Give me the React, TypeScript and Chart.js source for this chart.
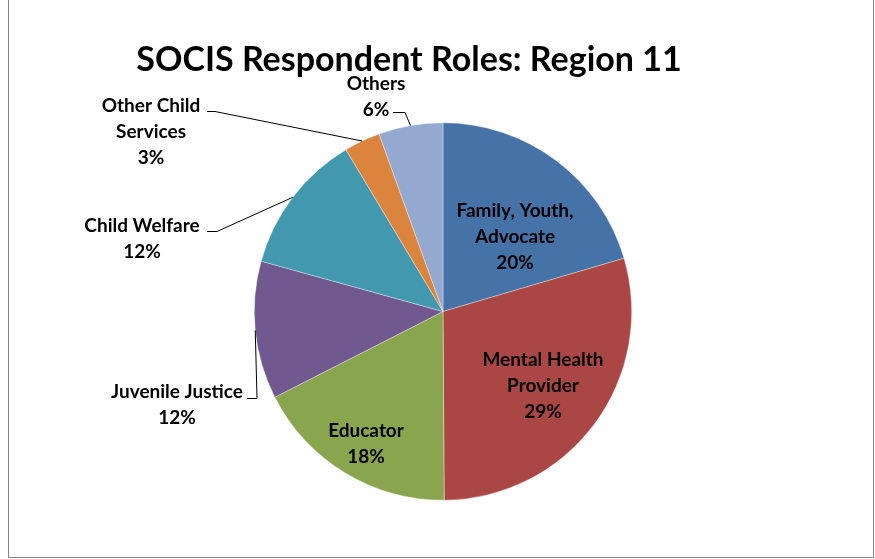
import React, { useEffect, useRef } from "react";
import { Chart, registerables } from "chart.js";

Chart.register(...registerables);

const titleText = "SOCIS Respondent Roles: Region 11";
const categories = [
  "Family, Youth, Advocate",
  "Mental Health Provider",
  "Educator",
  "Juvenile Justice",
  "Child Welfare",
  "Other Child Services",
  "Others",
];
const labelLines = [
  ["Family, Youth,", "Advocate"],
  ["Mental Health", "Provider"],
  ["Educator"],
  ["Juvenile Justice"],
  ["Child Welfare"],
  ["Other Child", "Services"],
  ["Others"],
];
// shares (%); labels show them rounded
const values = [20.45, 29.45, 17.6, 11.8, 12.1, 3.1, 5.5];
const sliceColors = ["#4572A7", "#AA4643", "#89A54E", "#71588F", "#4198AF", "#DB843D", "#93A9CF"];

// label placement, offsets from the pie centre (px)
type Place =
  | { kind: "inside"; tx: number; ty: number }
  | { kind: "outside"; tx: number; ty: number; lineY: number; elbowX: number; endX: number };
const labelPlacement: Place[] = [
  { kind: "inside", tx: 72, ty: -75 },
  { kind: "inside", tx: 100, ty: 74 },
  { kind: "inside", tx: -77, ty: 132 },
  { kind: "outside", tx: -266, ty: 93, lineY: 87, elbowX: -186, endX: -196 },
  { kind: "outside", tx: -301, ty: -73, lineY: -80, elbowX: -226, endX: -236 },
  { kind: "outside", tx: -292, ty: -180, lineY: -200, elbowX: -228, endX: -236 },
  { kind: "outside", tx: -67, ty: -215, lineY: -199, elbowX: -38, endX: -50 },
];

const FONT = "Lato, 'Open Sans', sans-serif";

const labelPlugin = {
  id: "sliceLabels",
  afterDatasetsDraw(chart: any) {
    const ctx = chart.ctx as CanvasRenderingContext2D;
    const meta = chart.getDatasetMeta(0);
    const arcs = meta.data;
    if (!arcs.length) return;
    const cx = arcs[0].x;
    const cy = arcs[0].y;
    const r = arcs[0].outerRadius;
    ctx.save();
    ctx.fillStyle = "#000";
    ctx.strokeStyle = "#000";
    ctx.lineWidth = 1;
    ctx.font = `bold 19px ${FONT}`;
    ctx.textAlign = "center";
    ctx.textBaseline = "middle";
    const lh = 26;
    arcs.forEach((arc: any, i: number) => {
      const p = labelPlacement[i];
      const lines = [...labelLines[i], `${Math.round(values[i])}%`];
      if (p.kind === "outside") {
        const a = (arc.startAngle + arc.endAngle) / 2;
        const sx = cx + Math.cos(a) * r;
        const sy = cy + Math.sin(a) * r;
        ctx.beginPath();
        ctx.moveTo(sx, sy);
        ctx.lineTo(cx + p.elbowX, cy + p.lineY);
        ctx.lineTo(cx + p.endX, cy + p.lineY);
        ctx.stroke();
      }
      const y0 = cy + p.ty - ((lines.length - 1) * lh) / 2;
      lines.forEach((t, k) => ctx.fillText(t, cx + p.tx, y0 + k * lh));
    });
    ctx.restore();
  },
};

const titlePlugin = {
  id: "bigTitle",
  afterDraw(chart: any) {
    const ctx = chart.ctx as CanvasRenderingContext2D;
    ctx.save();
    ctx.fillStyle = "#000";
    ctx.font = `bold 34px ${FONT}`;
    ctx.textAlign = "center";
    ctx.textBaseline = "middle";
    ctx.fillText(titleText, 409, 60);
    ctx.restore();
  },
};

export default function App() {
  const ref = useRef<HTMLCanvasElement | null>(null);
  useEffect(() => {
    if (!ref.current) return;
    const chart = new Chart(ref.current, {
      type: "pie",
      data: {
        labels: categories,
        datasets: [
          {
            data: values,
            backgroundColor: sliceColors,
            borderColor: "rgba(255,255,255,0.6)",
            borderWidth: 0.6,
          },
        ],
      },
      options: {
        animation: false,
        responsive: false,
        layout: { padding: { left: 254, right: 243, top: 122, bottom: 58 } },
        plugins: {
          legend: { display: false },
          tooltip: { enabled: false },
          title: { display: false },
        },
      },
      plugins: [labelPlugin, titlePlugin],
    });
    return () => chart.destroy();
  }, []);
  return (
    <div style={{ position: "absolute", left: 0, top: 0, width: 875, height: 559, background: "#fff", overflow: "hidden" }}>
      <div
        style={{
          position: "absolute",
          left: 8,
          top: -10,
          width: 866,
          height: 568,
          border: "1.5px solid #868686",
          boxSizing: "border-box",
        }}
      />
      <canvas ref={ref} width={875} height={559} style={{ position: "absolute", left: 0, top: 0 }} />
    </div>
  );
}
